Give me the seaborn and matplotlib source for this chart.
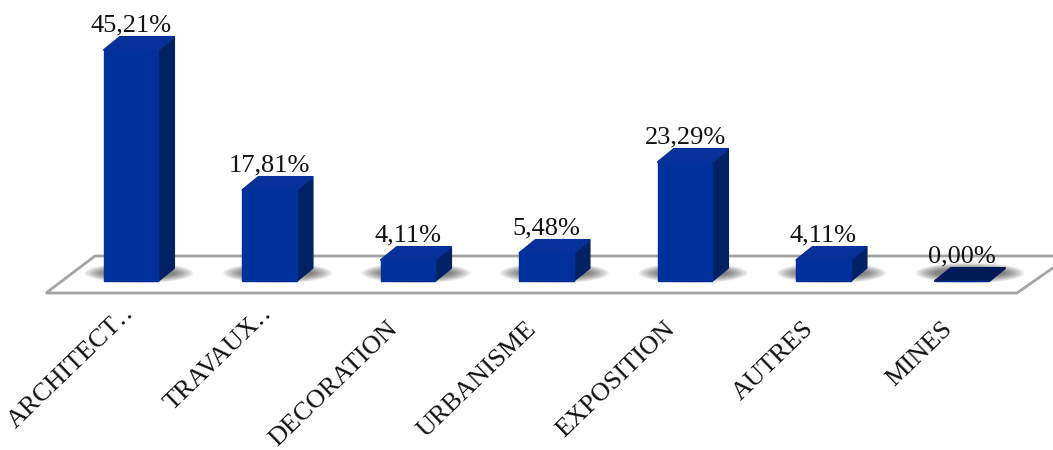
import matplotlib
matplotlib.use('Agg')
import matplotlib.pyplot as plt
from matplotlib.patches import Ellipse, Polygon
from matplotlib.transforms import ScaledTranslation
import seaborn as sns

categories = ['ARCHITECT‥', 'TRAVAUX‥', 'DECORATION', 'URBANISME', 'EXPOSITION', 'AUTRES', 'MINES']
values = [45.21, 17.81, 4.11, 5.48, 23.29, 4.11, 0.00]
value_labels = ['45,21%', '17,81%', '4,11%', '5,48%', '23,29%', '4,11%', '0,00%']

FRONT = '#00309c'
SIDE = '#002265'
TOP = '#06309a'
DARK = '#001a57'

sns.set_theme(style='white')
plt.rcParams['font.family'] = ['Liberation Serif', 'DejaVu Serif']

W, H = 1053, 450
fig = plt.figure(figsize=(W / 100, H / 100), dpi=100)
# axes en pixels : le bas de l'axe est juste sous le plateau
ax = fig.add_axes([0, 1 - 300 / H, 1, 300 / H])

sns.barplot(x=categories, y=values, color=FRONT, saturation=1, width=0.39, ax=ax, zorder=4,
            edgecolor=FRONT, linewidth=1)

step = 138.5
px_y = 5.11
ax.set_xlim(-131 / step, (W - 131) / step)
ax.set_ylim(-(300 - 281) / px_y, 281 / px_y)
ax.set_xlabel('')
ax.set_ylabel('')
ax.set_yticks([])
for s in ax.spines.values():
    s.set_visible(False)

dx = 16 / step
dy = 13 / px_y


def fig_xy(points):
    return [(x / W, 1 - y / H) for x, y in points]


# plateau
floor = Polygon(fig_xy([(46, 293), (95, 256), (1070, 256), (1017, 293)]), closed=True,
                facecolor='white', edgecolor='#a3a3a3', lw=2, transform=fig.transFigure, zorder=1)
ax.add_patch(floor)

bars = ax.containers[0]
for rect in bars:
    x0 = rect.get_x()
    x1 = x0 + rect.get_width()
    h = rect.get_height()

    # ombre portee floue, empilement d'ellipses transparentes
    for k in range(22):
        ew = (70 + 1.9 * k) / step
        eh = (8 + 0.6 * k) / px_y
        ax.add_patch(Ellipse(((x0 + x1 + dx) / 2, 8 / px_y), ew, eh, facecolor='#2a2a2a',
                             edgecolor='none', alpha=0.035, zorder=2))

    top_color = DARK if h == 0 else TOP
    ax.add_patch(Polygon([(x1, 0), (x1 + dx, dy), (x1 + dx, h + dy), (x1, h)], closed=True,
                         facecolor=SIDE, edgecolor=SIDE, lw=1.5, joinstyle='round', zorder=3))
    ax.add_patch(Polygon([(x0, h), (x1, h), (x1 + dx, h + dy), (x0 + dx, h + dy)], closed=True,
                         facecolor=top_color, edgecolor=top_color, lw=1.5, joinstyle='round', zorder=3))

ax.bar_label(bars, labels=value_labels, fontsize=19, color='#111111', padding=10, zorder=6)

ax.tick_params(axis='x', length=0, pad=0)
for lab, name in zip(ax.get_xticklabels(), categories):
    # les deux points depassent de l'ancrage des autres libelles
    if name.endswith('‥'):
        shift = ScaledTranslation(-8 / 100, -2 / 100, fig.dpi_scale_trans)
    else:
        shift = ScaledTranslation(-21 / 100, -18 / 100, fig.dpi_scale_trans)
    lab.set_rotation(44)
    lab.set_ha('right')
    lab.set_rotation_mode('anchor')
    lab.set_fontsize(19)
    lab.set_color('#111111')
    lab.set_transform(lab.get_transform() + shift)

fig.savefig('out.png', dpi=100, facecolor='white')
